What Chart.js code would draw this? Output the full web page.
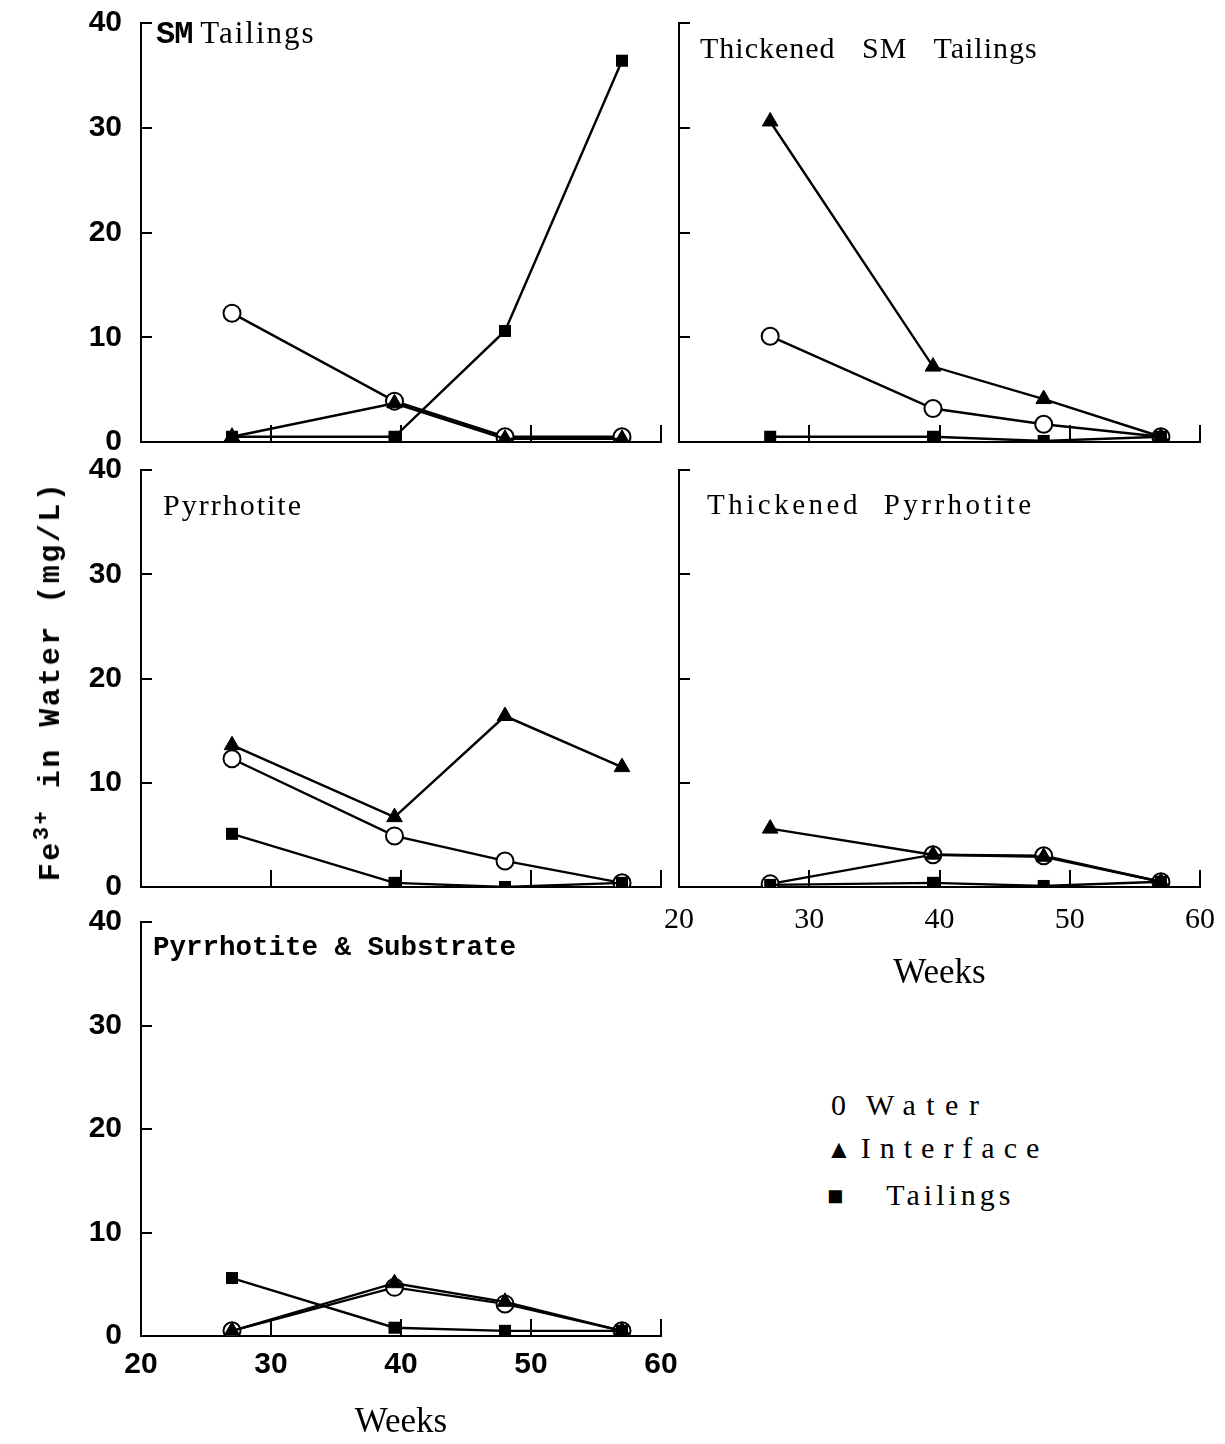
<!DOCTYPE html>
<html>
<head>
<meta charset="utf-8">
<script src="https://cdn.jsdelivr.net/npm/chart.js@4.4.1/dist/chart.umd.min.js"></script>
<style>
  body { margin: 0; background: #fff; }
  #page { position: relative; width: 1225px; height: 1444px; overflow: hidden; }
  canvas { position: absolute; }
  .txt { position: absolute; white-space: nowrap; line-height: 1; color: #000; }
  .serif { font-family: "Liberation Serif", "DejaVu Serif", serif; }
  .mono { font-family: "Liberation Mono", "DejaVu Sans Mono", monospace; font-weight: bold; }
</style>
</head>
<body>
<div id="page">
  <canvas id="smChart" width="700" height="460" style="left:0;top:0"></canvas>
  <canvas id="tsmChart" width="625" height="460" style="left:600px;top:0"></canvas>
  <canvas id="poChart" width="700" height="460" style="left:0;top:450px"></canvas>
  <canvas id="tpoChart" width="625" height="560" style="left:600px;top:450px"></canvas>
  <canvas id="psChart" width="700" height="544" style="left:0;top:900px"></canvas>

  <div class="txt" style="left:156px;top:17px;font-size:31px"><span class="mono" style="font-size:32px;letter-spacing:-1px">SM</span> <span class="serif" style="letter-spacing:2px">Tailings</span></div>
  <div class="txt serif" style="left:700px;top:33px;font-size:30px;letter-spacing:1px;word-spacing:18px">Thickened SM Tailings</div>
  <div class="txt serif" style="left:163px;top:490px;font-size:30px;letter-spacing:2px">Pyrrhotite</div>
  <div class="txt serif" style="left:707px;top:490px;font-size:29px;letter-spacing:3.5px;word-spacing:12px">Thickened Pyrrhotite</div>
  <div class="txt mono" style="left:153px;top:934px;font-size:27.5px">Pyrrhotite &amp; Substrate</div>

  <div class="txt mono" style="left:49px;top:681px;font-size:30px;letter-spacing:2.5px;transform:translate(-50%,-50%) rotate(-90deg)">Fe<sup style="font-size:22px">3+</sup> in Water (mg/L)</div>

  <div class="txt serif" style="left:831px;top:1090px;font-size:30px"><span>0</span><span style="margin-left:20px;letter-spacing:10.5px">Water</span></div>
  <div class="txt serif" style="left:826px;top:1133px;font-size:30px"><span style="font-size:26px">&#9650;</span><span style="margin-left:9px;letter-spacing:9px">Interface</span></div>
  <div class="txt serif" style="left:827px;top:1180px;font-size:30px"><span style="font-size:27px">&#9632;</span><span style="margin-left:43px;letter-spacing:4px">Tailings</span></div>
</div>

<script>
// sampling weeks shared by every panel
const weeks = [27, 39.5, 48, 57];
const yTickValues = [0, 10, 20, 30, 40];
const xTickValues = [20, 30, 40, 50, 60];

// SM Tailings
const smWater     = [12.3, 3.9, 0.5, 0.5];
const smInterface = [0.5, 3.7, 0.3, 0.3];
const smTailings  = [0.5, 0.5, 10.6, 36.4];

// Thickened SM Tailings
const tsmWater     = [10.1, 3.2, 1.7, 0.5];
const tsmInterface = [30.6, 7.2, 4.1, 0.5];
const tsmTailings  = [0.5, 0.5, 0.1, 0.5];

// Pyrrhotite
const poWater     = [12.3, 4.9, 2.5, 0.4];
const poInterface = [13.6, 6.7, 16.4, 11.5];
const poTailings  = [5.1, 0.4, 0.0, 0.4];

// Thickened Pyrrhotite
const tpoWater     = [0.3, 3.1, 3.0, 0.5];
const tpoInterface = [5.6, 3.1, 2.9, 0.5];
const tpoTailings  = [0.2, 0.4, 0.1, 0.5];

// Pyrrhotite & Substrate
const psWater     = [0.5, 4.7, 3.1, 0.5];
const psInterface = [0.5, 5.1, 3.3, 0.5];
const psTailings  = [5.6, 0.8, 0.5, 0.5];

const toPoints = vals => weeks.map((w, i) => ({ x: w, y: vals[i] }));

// short inward tick marks on both axes, like the hand-drawn frames
const inwardTicks = {
    id: 'inwardTicks',
    beforeDatasetsDraw(chart) {
        const { ctx, chartArea, scales } = chart;
        ctx.save();
        ctx.strokeStyle = '#000';
        ctx.lineWidth = 2;
        ctx.beginPath();
        [10, 20, 30, 40].forEach(v => {
            const py = Math.round(scales.y.getPixelForValue(v));
            ctx.moveTo(chartArea.left, py);
            ctx.lineTo(chartArea.left + 11, py);
        });
        [30, 40, 50, 60].forEach(v => {
            const px = Math.round(scales.x.getPixelForValue(v));
            ctx.moveTo(px, chartArea.bottom);
            ctx.lineTo(px, chartArea.bottom - 17);
        });
        ctx.stroke();
        ctx.restore();
    }
};

function makePanel(id, water, iface, tails, cfg) {
    const el = document.getElementById(id);
    new Chart(el, {
        type: 'line',
        data: {
            datasets: [
                {
                    label: 'Tailings',
                    data: toPoints(tails),
                    borderColor: '#000',
                    borderWidth: 2.4,
                    pointStyle: 'rect',
                    pointRadius: 8.5,
                    pointBackgroundColor: '#000',
                    pointBorderColor: '#000',
                    pointBorderWidth: 0
                },
                {
                    label: 'Interface',
                    data: toPoints(iface),
                    borderColor: '#000',
                    borderWidth: 2.4,
                    pointStyle: 'triangle',
                    pointRadius: 9,
                    pointBackgroundColor: '#000',
                    pointBorderColor: '#000',
                    pointBorderWidth: 1
                },
                {
                    label: 'Water',
                    data: toPoints(water),
                    borderColor: '#000',
                    borderWidth: 2.4,
                    pointStyle: 'circle',
                    pointRadius: 8.5,
                    pointBackgroundColor: '#fff',
                    pointBorderColor: '#000',
                    pointBorderWidth: 2
                }
            ]
        },
        options: {
            responsive: false,
            animation: false,
            devicePixelRatio: 1,
            layout: { padding: { top: cfg.top, right: cfg.right, bottom: 0, left: 0 } },
            plugins: {
                legend: { display: false },
                tooltip: { enabled: false }
            },
            scales: {
                x: {
                    type: 'linear',
                    min: 20,
                    max: 60,
                    afterBuildTicks: scale => { scale.ticks = xTickValues.map(v => ({ value: v })); },
                    afterFit: scale => {
                        scale.height = cfg.xHeight;
                        scale.paddingLeft = 0;
                        scale.paddingRight = 0;
                    },
                    grid: { display: false, drawTicks: false },
                    border: { display: true, color: '#000', width: 2 },
                    ticks: {
                        display: !!cfg.xFont,
                        font: cfg.xFont || {},
                        color: '#000',
                        padding: cfg.xPad || 0,
                        maxRotation: 0,
                        autoSkip: false
                    },
                    title: {
                        display: !!cfg.xTitlePad,
                        text: 'Weeks',
                        color: '#000',
                        font: { family: '"Liberation Serif", serif', size: 35 },
                        padding: { top: 0, bottom: cfg.xTitlePad || 0 }
                    }
                },
                y: {
                    min: 0,
                    max: 40,
                    afterBuildTicks: scale => { scale.ticks = yTickValues.map(v => ({ value: v })); },
                    afterFit: scale => {
                        scale.width = cfg.yWidth;
                        scale.paddingTop = 0;
                        scale.paddingBottom = 0;
                    },
                    grid: { display: false, drawTicks: false },
                    border: { display: true, color: '#000', width: 2 },
                    ticks: {
                        display: cfg.yLabels,
                        font: { family: '"Liberation Sans", sans-serif', size: 30, weight: 'bold' },
                        color: '#000',
                        padding: 19
                    }
                }
            }
        },
        plugins: [inwardTicks]
    });
}

makePanel('smChart', smWater, smInterface, smTailings,
    { top: 23, right: 39, yWidth: 141, xHeight: 18, yLabels: true });
makePanel('tsmChart', tsmWater, tsmInterface, tsmTailings,
    { top: 23, right: 25, yWidth: 79, xHeight: 18, yLabels: false });
makePanel('poChart', poWater, poInterface, poTailings,
    { top: 20, right: 39, yWidth: 141, xHeight: 23, yLabels: true });
makePanel('tpoChart', tpoWater, tpoInterface, tpoTailings,
    { top: 20, right: 25, yWidth: 79, xHeight: 123, yLabels: false,
      xFont: { family: '"Liberation Serif", serif', size: 30 }, xPad: 15, xTitlePad: 15 });
makePanel('psChart', psWater, psInterface, psTailings,
    { top: 22, right: 39, yWidth: 141, xHeight: 108, yLabels: true,
      xFont: { family: '"Liberation Sans", sans-serif', size: 30, weight: 'bold' }, xPad: 11, xTitlePad: 0.5 });
</script>
</body>
</html>
